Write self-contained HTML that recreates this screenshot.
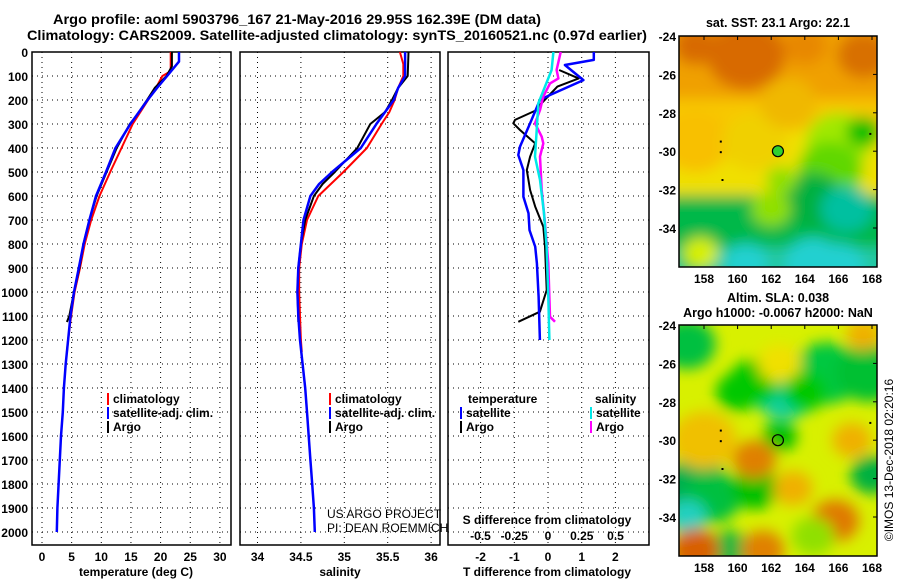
<!DOCTYPE html>
<html><head><meta charset="utf-8"><style>
html,body{margin:0;padding:0;background:#fff;}
svg{display:block;font-family:"Liberation Sans",sans-serif;}
.t{font-weight:bold;font-size:12px;fill:#000;}
</style></head><body>
<svg id="c" width="900" height="580" viewBox="0 0 900 580" xmlns="http://www.w3.org/2000/svg">
<defs>
<filter id="blur" x="-20%" y="-20%" width="140%" height="140%"><feGaussianBlur stdDeviation="7"/></filter>
<clipPath id="clipTop"><rect x="679" y="36" width="198" height="231"/></clipPath>
<clipPath id="clipBot"><rect x="679" y="325" width="198" height="231"/></clipPath>
</defs>
<text x="53" y="24" font-size="14" font-weight="bold" textLength="488" lengthAdjust="spacingAndGlyphs">Argo profile: aoml 5903796_167 21-May-2016 29.95S 162.39E (DM data)</text>
<text x="27" y="40" font-size="14" font-weight="bold" textLength="620" lengthAdjust="spacingAndGlyphs">Climatology: CARS2009. Satellite-adjusted climatology: synTS_20160521.nc (0.97d earlier)</text>
<g id="plots"></g>
<g id="maps"></g>
</svg>
<script>
// ---------- data ----------
const depthTicks = [0,100,200,300,400,500,600,700,800,900,1000,1100,1200,1300,1400,1500,1600,1700,1800,1900,2000];
const tempTicks = [0,5,10,15,20,25,30];
const salTicks = [34,34.5,35,35.5,36];
const salTickLabels = ["34","34.5","35","35.5","36"];
const dTTicks = [-2,-1,0,1,2];
const dSTicks = [-0.5,-0.25,0,0.25,0.5];
const dSTickLabels = ["-0.5","-0.25","0","0.25","0.5"];

const tempClimDepth = [0,80,100,150,200,300,400,500,600,700,800,900,1000,1100,1200,1250];
const tempClim = [21.7,21.7,20.3,19.2,17.9,15.3,13.4,11.5,9.7,8.3,7.2,6.4,5.5,4.9,4.4,4.2];
const tempSatDepth = [0,40,100,150,200,300,400,500,600,700,800,900,1000,1100,1200,1300,1400,1500,1600,1700,1800,1900,2000];
const tempSat = [23.1,23.1,21.1,19.4,17.8,14.9,12.4,10.8,9.1,8.0,7.0,6.2,5.4,4.8,4.4,4.0,3.7,3.5,3.2,3.0,2.8,2.6,2.5];
const tempArgoDepth = [0,60,100,150,200,270,300,400,500,600,700,800,900,1000,1100,1125];
const tempArgo = [21.9,21.9,21.0,19.0,17.7,15.8,14.8,12.6,10.9,9.2,8.0,7.0,6.3,5.4,4.6,4.2];

const salClimDepth = [0,50,100,150,200,250,300,400,500,600,700,800,900,1000,1100,1200,1250];
const salClim = [35.64,35.68,35.68,35.62,35.58,35.52,35.43,35.26,34.99,34.70,34.57,34.51,34.48,34.48,34.49,34.50,34.51];
const salSatDepth = [0,100,150,200,300,400,500,550,600,700,800,900,1000,1100,1200,1300,1400,1500,1600,1700,1800,1900,2000];
const salSat = [35.70,35.70,35.62,35.57,35.37,35.19,34.86,34.71,34.61,34.53,34.50,34.47,34.46,34.47,34.49,34.52,34.55,34.57,34.59,34.61,34.63,34.65,34.66];
const salArgoDepth = [0,100,150,200,250,300,400,500,550,600,700,800,900,1000,1100,1125];
const salArgo = [35.74,35.73,35.62,35.55,35.47,35.30,35.15,34.89,34.75,34.65,34.55,34.50,34.47,34.46,34.47,34.47];

const dTSatDepth = [0,33,54,117,179,200,297,394,429,492,603,672,742,811,881,1019,1200];
const dTSat = [1.36,1.36,0.5,1.05,0.06,-0.24,-0.53,-0.83,-0.88,-0.73,-0.73,-0.58,-0.55,-0.38,-0.33,-0.28,-0.24];
const dTArgoDepth = [75,110,144,221,242,283,297,325,381,436,492,575,644,728,811,992,1082,1124];
const dTArgo = [0.33,0.91,0.28,-0.24,-0.34,-0.98,-1.03,-0.83,-0.38,-0.53,-0.63,-0.53,-0.38,-0.14,-0.09,-0.04,-0.24,-0.88];
const dSSatDepth = [0,75,144,214,325,436,533,672,811,1019,1200];
const dSSat = [0.04,0.027,-0.022,-0.072,-0.084,-0.096,-0.059,-0.03,-0.01,0.002,0.01];
const dSArgoDepth = [0,75,110,131,186,242,297,353,381,436,575,714,881,1103,1124];
const dSArgo = [0.094,0.064,0.077,0.015,-0.035,-0.059,-0.096,-0.047,-0.035,-0.059,-0.047,-0.022,0.002,0.015,0.052];

// SST map background bands (lat top, lat bottom, colour)
const sstBandTop = [-23,-27.3,-29,-32.3,-35];
const sstBandBot = [-27.3,-29,-32.3,-35,-37];
const sstBandCol = ["#f0a000","#f8c800","#f0e000","#00b848","#20c8a0"];
// map blobs (lon, lat, radius in deg, colour)
const sstLon = [160.5,157.5,167.5,164,157.5,166,165.5,167.5,161,164.5,166.5,157.5,162,166,160.5,164.5,157.8,163,162.6];
const sstLat = [-25,-24.5,-25,-24.5,-29.5,-29.5,-31,-29,-29.5,-32.5,-33,-35.5,-33,-36,-35.8,-35.8,-35.3,-27.5,-31.5];
const sstRad = [1.8,1.0,1.2,1.0,1.6,1.5,1.5,0.8,1.5,1.4,1.2,0.8,0.9,1.2,1.0,1.3,0.8,1.3,0.7];
const sstCol = ["#d86a00","#d86a00","#d87000","#e88800","#f8c000","#a0e800","#60d800","#00c000","#f0d000","#00b040","#00c0a0","#00c000","#90e000","#20d0d0","#20d0d0","#20d0d0","#d8f000","#f0b800","#90e000"];

const slaLon = [157,162.8,161,165.3,167.8,157.5,158.5,161,162.5,168,159.5,157,161,157.5,161.5,165.8,163.3,158,166.8,162.5,164.5,167.5,164,160];
const slaLat = [-25,-27.5,-27,-26.5,-26.5,-32.5,-33,-32.5,-29.8,-31.8,-35.7,-34,-31,-35.7,-35.7,-34.2,-32.5,-30,-30,-26,-35,-24.5,-27.5,-27.5];
const slaRad = [1.3,1.4,1.2,1.6,1.5,1.6,1.3,1.1,0.8,1.0,1.0,0.9,1.0,1.1,1.0,1.1,0.9,1.5,0.9,1.0,1.0,0.8,1.0,1.0];
const slaCol = ["#00c040","#10d0a0","#00c800","#00c840","#00c030","#00b050","#00c040","#00c000","#00c000","#00b040","#00b840","#20d0c0","#e08000","#d86000","#e08000","#e07800","#f0b000","#f0c000","#f0b000","#f0e000","#90e000","#f0b000","#00c800","#00c800"];

// ---------- helpers ----------
const NS = "http://www.w3.org/2000/svg";
const plots = document.getElementById('plots');
const maps = document.getElementById('maps');
function mk(tag, attrs, parent){ const e=document.createElementNS(NS,tag); for(const k in attrs) e.setAttribute(k,attrs[k]); (parent||plots).appendChild(e); return e; }
const Y0=52, YS=0.24, PT=52, PB=545;
const yD = d => Y0 + d*YS;
const panels = [
  {x0:32,x1:231, vx:v=>42+v*5.93},
  {x0:240,x1:440, vx:v=>257.5+(v-34)*86.8},
  {x0:448,x1:649, vx:v=>548+v*33.7}
];
const xS = v => 548+v*135;

function frame(p, name){
  const r = mk('rect',{x:p.x0,y:PT,width:p.x1-p.x0,height:PB-PT,fill:'none',stroke:'#000','stroke-width':1.5});
  
  
  depthTicks.forEach(d=>{ if(d===0) return;
    const l = mk('line',{x1:p.x0,x2:p.x1,y1:yD(d),y2:yD(d),stroke:'#000','stroke-dasharray':'1,4','stroke-width':1});
    
    
  });
}
function vgrid(p, ticks, fx){
  ticks.forEach(v=>{
    const l = mk('line',{x1:fx(v),x2:fx(v),y1:PT,y2:PB,stroke:'#000','stroke-dasharray':'1,4','stroke-width':1});
    
    
  });
}
function series(depths, vals, fx, col, w, name){
  const pts = depths.map((d,i)=>fx(vals[i]).toFixed(1)+','+yD(d).toFixed(1)).join(' ');
  const pl = mk('polyline',{points:pts,fill:'none',stroke:col,'stroke-width':w,'stroke-linejoin':'round'});
  
  
}
function txt(x,y,s,anchor,name,extra){
  const t = mk('text',Object.assign({x:x,y:y,class:'t','text-anchor':anchor||'start'},extra||{}));
  t.textContent = s;
  
  
  return t;
}
function legendItem(x,y,col,label,name){
  const b = mk('rect',{x:x,y:y-10,width:2,height:12,fill:col});
  
  
  txt(x+6,y,label,'start',name);
}

// panel 1: temperature
frame(panels[0],'temperature-panel');
vgrid(panels[0], tempTicks, panels[0].vx);
depthTicks.forEach(d=>txt(28,yD(d)+5,String(d),'end','depth-tick-label'));
tempTicks.forEach(v=>txt(panels[0].vx(v),561,String(v),'middle','temperature-tick-label'));
txt(136,576,'temperature (deg C)','middle','temperature-axis-title');
series(tempClimDepth,tempClim,panels[0].vx,'#ff0000',2,'temp-climatology-line');
series(tempArgoDepth,tempArgo,panels[0].vx,'#000000',2,'temp-argo-line');
series(tempSatDepth,tempSat,panels[0].vx,'#0000ff',2.5,'temp-satellite-line');
legendItem(107,403,'#ff0000','climatology','legend-climatology');
legendItem(107,417,'#0000ff','satellite-adj. clim.','legend-satellite-adj');
legendItem(107,431,'#000000','Argo','legend-argo');

// panel 2: salinity
frame(panels[1],'salinity-panel');
vgrid(panels[1], salTicks, panels[1].vx);
salTicks.forEach((v,i)=>txt(panels[1].vx(v),561,salTickLabels[i],'middle','salinity-tick-label'));
txt(340,576,'salinity','middle','salinity-axis-title');
series(salClimDepth,salClim,panels[1].vx,'#ff0000',2,'sal-climatology-line');
series(salArgoDepth,salArgo,panels[1].vx,'#000000',2,'sal-argo-line');
series(salSatDepth,salSat,panels[1].vx,'#0000ff',2.5,'sal-satellite-line');
legendItem(329,403,'#ff0000','climatology','legend2-climatology');
legendItem(329,417,'#0000ff','satellite-adj. clim.','legend2-satellite-adj');
legendItem(329,431,'#000000','Argo','legend2-argo');
txt(327,518,'US ARGO PROJECT','start','credit-project',{style:'font-weight:normal;font-size:12px'});
txt(327,532,'PI: DEAN ROEMMICH','start','credit-pi',{style:'font-weight:normal;font-size:12px'});

// panel 3: differences
frame(panels[2],'difference-panel');
vgrid(panels[2], dTTicks, panels[2].vx);
dTTicks.forEach(v=>txt(panels[2].vx(v),561,String(v),'middle','dT-tick-label'));
dSTicks.forEach((v,i)=>txt(xS(v),540,dSTickLabels[i],'middle','dS-tick-label'));
txt(547,524,'S difference from climatology','middle','dS-axis-title');
txt(547,576,'T difference from climatology','middle','dT-axis-title');
series(dTArgoDepth,dTArgo,panels[2].vx,'#000000',2,'dT-argo-line');
series(dTSatDepth,dTSat,panels[2].vx,'#0000ff',2.5,'dT-satellite-line');
series(dSArgoDepth,dSArgo,xS,'#ff00ff',2.5,'dS-argo-line');
series(dSSatDepth,dSSat,xS,'#00e8e8',2.5,'dS-satellite-line');
txt(468,403,'temperature','start','legend3-temperature-header');
legendItem(460,417,'#0000ff','satellite','legend3-t-satellite');
legendItem(460,431,'#000000','Argo','legend3-t-argo');
txt(595,403,'salinity','start','legend3-salinity-header');
legendItem(590,417,'#00e8e8','satellite','legend3-s-satellite');
legendItem(590,431,'#ff00ff','Argo','legend3-s-argo');

// ---------- maps ----------
const MX0=679, MX1=877, lonX = lon => 704 + (lon-158)*16.8;
const latTicks=[-24,-26,-28,-30,-32,-34];
const lonTicks=[158,160,162,164,166,168];
function mapPanel(top, base, bTop, bBot, bCol, lons, lats, rads, cols, clip, name, filled){
  const latY = lat => top + (-24-lat)*19.2;
  const g = mk('g',{'clip-path':'url(#'+clip+')'},maps);
  
  
  mk('rect',{x:MX0,y:top,width:MX1-MX0,height:231,fill:base},g);
  const bg = mk('g',{filter:'url(#blur)'},g);
  bTop.forEach((t,i)=>{
    const r = mk('rect',{x:MX0-20,y:latY(t),width:MX1-MX0+40,height:latY(bBot[i])-latY(t),fill:bCol[i]},bg);
    
    
  });
  lons.forEach((lon,i)=>{
    const e = mk('ellipse',{cx:lonX(lon),cy:latY(lats[i]),rx:rads[i]*16.8*1.3,ry:rads[i]*19.2,fill:cols[i]},bg);
    
    
  });
  const fr = mk('rect',{x:MX0,y:top,width:MX1-MX0,height:231,fill:'none',stroke:'#000','stroke-width':1.5},maps);
  
  
  latTicks.forEach(l=>{
    const t = mk('text',{x:676,y:latY(l)+5,class:'t','text-anchor':'end'},maps); t.textContent=String(l);
    
    
    mk('line',{x1:MX1-4,x2:MX1,y1:latY(l),y2:latY(l),stroke:'#000'},maps);
  });
  lonTicks.forEach(l=>{
    const t = mk('text',{x:lonX(l),y:top+247,class:'t','text-anchor':'middle'},maps); t.textContent=String(l);
    
    
    mk('line',{x1:lonX(l),x2:lonX(l),y1:top,y2:top+4,stroke:'#000'},maps);
  });
  const c = mk('circle',{cx:lonX(162.4),cy:latY(-30),r:5.5,fill:filled?'#30d030':'none',stroke:'#000','stroke-width':1.2},maps);
  
  
  [[159,-29.5],[159,-30.05],[159.1,-31.5],[167.9,-29.1]].forEach(p=>mk('rect',{x:lonX(p[0])-1,y:latY(p[1])-1,width:2,height:2,fill:'#000'},maps));
}
mapPanel(36,'#f0d000',sstBandTop,sstBandBot,sstBandCol,sstLon,sstLat,sstRad,sstCol,'clipTop','sst-map',true);
mapPanel(325,'#d8f000',[],[],[],slaLon,slaLat,slaRad,slaCol,'clipBot','sla-map',false);
function mtxt(x,y,s,name,extra){ const t=mk('text',Object.assign({x:x,y:y,class:'t','text-anchor':'middle',style:'font-size:12.5px'},extra||{}),maps); t.textContent=s;
  
   }
mtxt(778,27,'sat. SST: 23.1 Argo: 22.1','sst-map-title');
mtxt(778,302,'Altim. SLA: 0.038','sla-map-title');
mtxt(778,317,'Argo h1000: -0.0067 h2000: NaN','sla-map-subtitle');
mtxt(0,0,'©IMOS 13-Dec-2018 02:20:16','imos-credit',{transform:'translate(893,460) rotate(-90)',style:'font-weight:normal;font-size:12px'});
</script>
</body></html>
